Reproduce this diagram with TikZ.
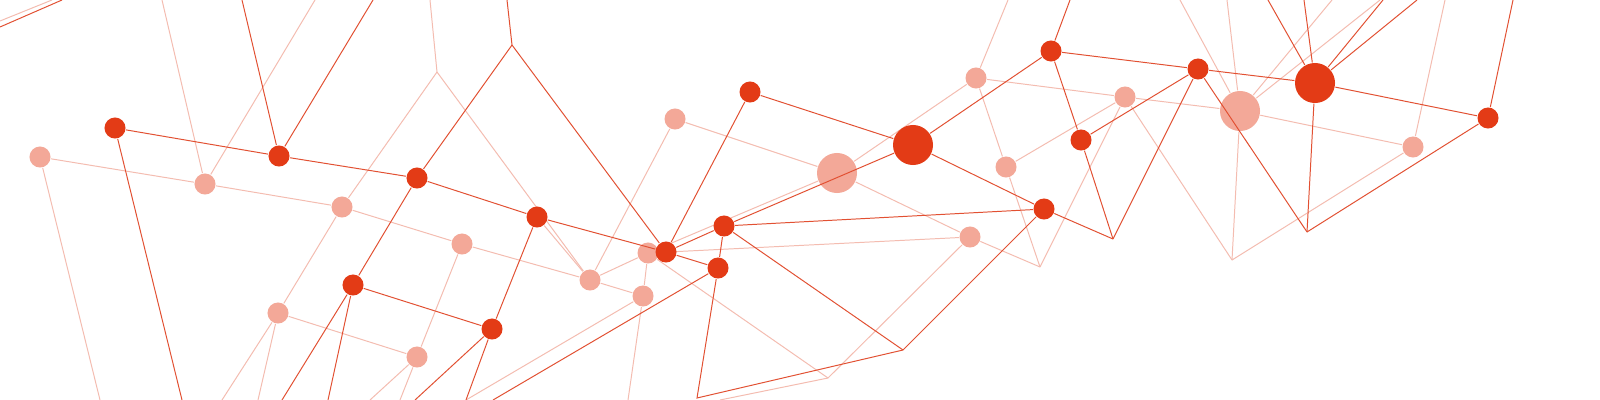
\documentclass[tikz,border=0pt]{standalone}
\definecolor{dkfill}{RGB}{227,59,22}
\definecolor{ltfill}{RGB}{243,168,152}
\definecolor{dkline}{RGB}{226,80,50}
\definecolor{ltline}{RGB}{244,188,176}
\pgfdeclarelayer{paper}
\pgfdeclarelayer{lightnodes}
\pgfdeclarelayer{lines}
\pgfsetlayers{paper,lightnodes,lines,main}
\tikzset{
  dk/.style={circle,fill=dkfill,inner sep=0pt,minimum size=0.21cm},
  dkbig/.style={circle,fill=dkfill,inner sep=0pt,minimum size=0.40cm},
  lt/.style={circle,fill=ltfill,inner sep=0pt,minimum size=0.21cm},
  ltbig/.style={circle,fill=ltfill,inner sep=0pt,minimum size=0.40cm},
  dl/.style={draw=dkline,line width=0.28pt},
  ll/.style={draw=ltline,line width=0.28pt}
}
\begin{document}
\begin{tikzpicture}[x=0.01cm,y=-0.01cm]
\begin{pgfonlayer}{paper}
\fill[white] (0,0) rectangle (1600,400);
\end{pgfonlayer}
\useasboundingbox (0,0) rectangle (1600,400);
% light nodes
\begin{pgfonlayer}{lightnodes}
\node[lt] (B) at (40,157) {};
\node[lt] (D) at (205,184) {};
\node[lt] (E) at (342,207) {};
\node[lt] (E2) at (462,244) {};
\node[lt] (E3) at (417,357) {};
\node[lt] (E4) at (278,313) {};
\node[lt] (G) at (590,280) {};
\node[lt] (G2) at (643,296) {};
\node[lt] (H0) at (648,253) {};
\node[lt] (I) at (675,119) {};
\node[lt] (N) at (976,78) {};
\node[lt] (S) at (1006,167) {};
\node[lt] (O) at (970,237) {};
\node[lt] (T) at (1125,97) {};
\node[lt] (Y) at (1413,147) {};
\node[ltbig] (L) at (837,173) {};
\node[ltbig] (X) at (1240,111) {};
\end{pgfonlayer}
% dark nodes
\node[dk] (A) at (115,128) {};
\node[dk] (C) at (279,156) {};
\node[dk] (F) at (417,178) {};
\node[dk] (F2) at (537,217) {};
\node[dk] (C2) at (353,285) {};
\node[dk] (F3) at (492,329) {};
\node[dk] (H) at (666,252) {};
\node[dk] (K) at (724,226) {};
\node[dk] (K2) at (718,268) {};
\node[dk] (J) at (750,92) {};
\node[dk] (R) at (1044,209) {};
\node[dk] (Q) at (1051,51) {};
\node[dk] (U) at (1081,140) {};
\node[dk] (W) at (1198,69) {};
\node[dk] (AA) at (1488,118) {};
\node[dkbig] (M) at (913,145) {};
\node[dkbig] (Z) at (1315,83) {};
% free points
\coordinate (t1a) at (0,21); \coordinate (t1b) at (52,0);
\coordinate (t2a) at (0,27); \coordinate (t2b) at (62,0);
\coordinate (pA) at (182,400);
\coordinate (pB) at (100,400);
\coordinate (pD1) at (162,0);
\coordinate (pD2) at (315,0);
\coordinate (pC1) at (242,0);
\coordinate (pC2) at (373,0);
\coordinate (v1) at (437,72);
\coordinate (v1top) at (430,0);
\coordinate (P1) at (512,45);
\coordinate (P1top) at (507,0);
\coordinate (pE4a) at (222,400);
\coordinate (pE4b) at (258,400);
\coordinate (pC2a) at (282,400);
\coordinate (pC2b) at (328,400);
\coordinate (pE3a) at (370,400);
\coordinate (pE3b) at (400,400);
\coordinate (pF3a) at (415,400);
\coordinate (V5) at (466,400);
\coordinate (pK2) at (493,400);
\coordinate (pG2) at (628,400);
\coordinate (V7) at (697,398);
\coordinate (V6) at (903,350);
\coordinate (V8) at (828,378);
\coordinate (pV8) at (720,400);
\coordinate (V1) at (1040,267);
\coordinate (V2) at (1113,239);
\coordinate (V3) at (1232,260);
\coordinate (V4) at (1307,232);
\coordinate (pN) at (1008,0);
\coordinate (pQ) at (1070,0);
\coordinate (pX0) at (1180,0);
\coordinate (pX1) at (1227,0);
\coordinate (pX2) at (1332,0);
\coordinate (pX3) at (1380,0);
\coordinate (pZ1) at (1268,0);
\coordinate (pZ2) at (1304,0);
\coordinate (pZ3) at (1383,0);
\coordinate (pZ4) at (1417,0);
\coordinate (pY) at (1445,0);
\coordinate (pAA) at (1513,0);
\begin{pgfonlayer}{lines}
% light connectors
\draw[ll] (t1a) -- (t1b);
\draw[ll] (B) -- (D) -- (E) -- (E2) -- (G);
\draw[ll] (B) -- (pB);
\draw[ll] (D) -- (pD1);
\draw[ll] (D) -- (pD2);
\draw[ll] (v1top) -- (v1) -- (E);
\draw[ll] (v1) -- (G);
\draw[ll] (E) -- (E4) -- (E3);
\draw[ll] (E2) -- (E3);
\draw[ll] (E4) -- (pE4a);
\draw[ll] (E4) -- (pE4b);
\draw[ll] (E3) -- (pE3a);
\draw[ll] (E3) -- (pE3b);
\draw[ll] (F2) -- (G);
\draw[ll] (G) -- (I);
\draw[ll] (G) -- (H0);
\draw[ll] (G) -- (G2);
\draw[ll] (V5) -- (G2);
\draw[ll] (H0) -- (G2) -- (pG2);
\draw[ll] (I) -- (L);
\draw[ll] (H0) -- (L);
\draw[ll] (H0) -- (O);
\draw[ll] (H0) -- (V8);
\draw[ll] (O) -- (V8) -- (pV8);
\draw[ll] (L) -- (N);
\draw[ll] (L) -- (O);
\draw[ll] (N) -- (pN);
\draw[ll] (N) -- (S);
\draw[ll] (N) -- (T);
\draw[ll] (S) -- (T);
\draw[ll] (S) -- (V1);
\draw[ll] (O) -- (V1);
\draw[ll] (T) -- (V1);
\draw[ll] (T) -- (X);
\draw[ll] (T) -- (V3);
\draw[ll] (X) -- (V3);
\draw[ll] (Y) -- (V3);
\draw[ll] (X) -- (Y);
\draw[ll] (Y) -- (pY);
\draw[ll] (pX0) -- (X);
\draw[ll] (pX1) -- (X);
\draw[ll] (X) -- (pX2);
\draw[ll] (X) -- (pX3);
% dark connectors
\draw[dl] (t2a) -- (t2b);
\draw[dl] (A) -- (C) -- (F) -- (F2) -- (H);
\draw[dl] (A) -- (pA);
\draw[dl] (C) -- (pC1);
\draw[dl] (C) -- (pC2);
\draw[dl] (P1top) -- (P1) -- (F);
\draw[dl] (P1) -- (H);
\draw[dl] (F) -- (C2) -- (F3);
\draw[dl] (F2) -- (F3);
\draw[dl] (C2) -- (pC2a);
\draw[dl] (C2) -- (pC2b);
\draw[dl] (F3) -- (pF3a);
\draw[dl] (F3) -- (V5);
\draw[dl] (pK2) -- (K2);
\draw[dl] (J) -- (H);
\draw[dl] (J) -- (M);
\draw[dl] (H) -- (K);
\draw[dl] (H) -- (K2);
\draw[dl] (K) -- (K2);
\draw[dl] (K) -- (M);
\draw[dl] (K) -- (R);
\draw[dl] (K) -- (V6);
\draw[dl] (K2) -- (V7) -- (V6) -- (R);
\draw[dl] (M) -- (Q);
\draw[dl] (M) -- (R);
\draw[dl] (Q) -- (pQ);
\draw[dl] (Q) -- (U);
\draw[dl] (Q) -- (W);
\draw[dl] (U) -- (W);
\draw[dl] (U) -- (V2);
\draw[dl] (R) -- (V2);
\draw[dl] (W) -- (V2);
\draw[dl] (W) -- (Z);
\draw[dl] (W) -- (V4);
\draw[dl] (Z) -- (V4);
\draw[dl] (AA) -- (V4);
\draw[dl] (Z) -- (AA);
\draw[dl] (AA) -- (pAA);
\draw[dl] (Z) -- (pZ1);
\draw[dl] (Z) -- (pZ2);
\draw[dl] (Z) -- (pZ3);
\draw[dl] (Z) -- (pZ4);
\end{pgfonlayer}
\end{tikzpicture}
\end{document}
